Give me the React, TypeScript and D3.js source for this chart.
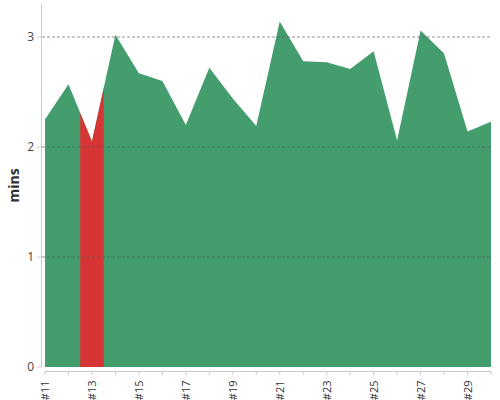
import * as d3 from "d3";

const labels = [
  "#11", "#12", "#13", "#14", "#15", "#16", "#17", "#18", "#19", "#20",
  "#21", "#22", "#23", "#24", "#25", "#26", "#27", "#28", "#29", "#30",
];
const mins = [
  2.25, 2.57, 2.05, 3.02, 2.67, 2.6, 2.2, 2.72, 2.44, 2.19,
  3.14, 2.78, 2.77, 2.71, 2.87, 2.06, 3.06, 2.85, 2.14, 2.23,
];
const highlighted = ["#13"];
const yTicks = [0, 1, 2, 3];

const W = 500;
const H = 400;
const mg = { top: 4, right: 9, bottom: 33, left: 45 };
const GREEN = "#449d6d";
const RED = "#d73535";

export default function App() {
  const idx = labels.map((_, i) => i);
  const x = d3.scaleLinear([0, labels.length - 1], [mg.left, W - mg.right]);
  const y = d3.scaleLinear([0, 3.3], [H - mg.bottom, mg.top]);
  const step = x(1) - x(0);
  const base = H - mg.bottom;

  const area = d3
    .area<number>()
    .x((i) => x(i))
    .y0(base)
    .y1((i) => y(mins[i]));

  const axisX = base + 4.5;

  return (
    <svg
      width={W}
      height={H}
      style={{ position: "absolute", left: 0, top: 0, fontFamily: "'Open Sans', sans-serif" }}
    >
      <defs>
        {highlighted.map((l) => {
          const i = labels.indexOf(l);
          return (
            <clipPath id={`hl-${i}`} key={l}>
              <rect x={x(i) - step / 2} y={0} width={step} height={H} />
            </clipPath>
          );
        })}
      </defs>

      <path d={area(idx) ?? ""} fill={GREEN} />
      {highlighted.map((l) => {
        const i = labels.indexOf(l);
        return <path key={l} d={area(idx) ?? ""} fill={RED} clipPath={`url(#hl-${i})`} />;
      })}

      {yTicks.filter((t) => t > 0).map((t) => (
        <line
          key={t}
          x1={mg.left - 3}
          x2={W - mg.right}
          y1={y(t)}
          y2={y(t)}
          stroke="#555"
          strokeWidth={0.8}
          strokeDasharray="3 2"
          opacity={0.8}
        />
      ))}

      {/* y axis */}
      <line x1={41.5} x2={41.5} y1={mg.top} y2={base} stroke="#ccc" />
      {yTicks.map((t) => (
        <g key={t}>
          <line x1={37} x2={41.5} y1={y(t)} y2={y(t)} stroke="#ccc" />
          <text x={34} y={y(t)} dy="0.35em" textAnchor="end" fontSize="12" fill="#444">
            {t}
          </text>
        </g>
      ))}
      <text
        transform={`translate(19, ${(mg.top + base) / 2}) rotate(-90)`}
        textAnchor="middle"
        fontSize="14"
        fontWeight="700"
        fill="#333"
      >
        mins
      </text>

      {/* x axis */}
      <line x1={mg.left} x2={W - mg.right} y1={axisX} y2={axisX} stroke="#ccc" />
      {labels.map((l, i) => (
        <g key={l}>
          <line x1={x(i)} x2={x(i)} y1={axisX} y2={axisX + 3.5} stroke="#ccc" />
          {i % 2 === 0 && (
            <text
              transform={`translate(${x(i) + 4}, ${axisX + 9}) rotate(-90)`}
              textAnchor="end"
              fontSize="11"
              fill="#333"
            >
              {l}
            </text>
          )}
        </g>
      ))}
    </svg>
  );
}
